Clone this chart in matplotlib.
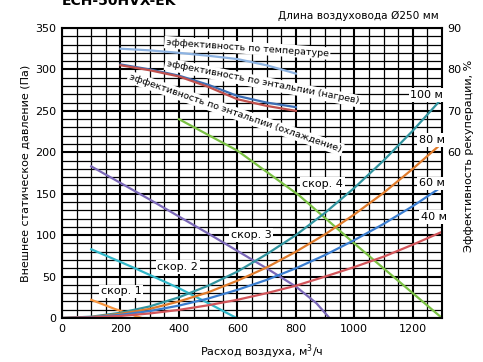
import matplotlib
matplotlib.use("Agg")
import matplotlib.pyplot as plt
from matplotlib.ticker import MultipleLocator

plt.rcParams['font.family'] = ['Liberation Sans Narrow', 'DejaVu Sans']

# fan curves (Pa vs m3/h)
spd1_x = [100, 180, 273]
spd1_y = [22, 11, 0]
spd2_x = [100, 250, 400, 500, 597]
spd2_y = [83, 60, 36, 18, 0]
spd3_x = [100, 300, 500, 700, 800, 870, 915]
spd3_y = [183, 143, 102, 60, 38, 18, 0]
spd4_x = [400, 600, 811, 1000, 1150, 1300]
spd4_y = [240, 202, 148, 90, 45, 0]

# duct length curves
duct_x = [0, 100, 200, 300, 400, 500, 600, 700, 800, 900, 1000, 1100, 1200, 1300]
duct100 = [0, 1.6, 6.3, 14, 25, 39, 56, 77, 100, 127, 157, 190, 226, 265]
duct80 = [0, 1.2, 5, 11, 20, 31, 45, 61, 80, 101, 125, 151, 180, 211]
duct60 = [0, 0.9, 3.8, 8.4, 15, 23.5, 34, 46, 60, 76, 94, 113.5, 135, 158.5]
duct40 = [0, 0.6, 2.5, 5.5, 9.8, 15.4, 22, 30, 39, 50, 61.5, 74, 88.5, 104]

# efficiency curves (%)
eff_x = [200, 300, 400, 500, 600, 700, 800]
eff_temp = [85, 84.6, 84, 83.3, 82.5, 81, 79]
eff_heat = [81.2, 80, 78.5, 76.3, 73.6, 72, 70.9]
eff_cool = [81, 79.8, 78.3, 75.8, 72.8, 71.2, 70]

fig = plt.figure(figsize=(4.83, 3.62), dpi=100)
ax = fig.add_axes([0.1284, 0.1215, 0.7867, 0.8012])
ax.set_xlim(0, 1300)
ax.set_ylim(0, 350)
ax.xaxis.set_major_locator(MultipleLocator(200))
ax.xaxis.set_minor_locator(MultipleLocator(50))
ax.yaxis.set_major_locator(MultipleLocator(50))
ax.yaxis.set_minor_locator(MultipleLocator(10))
ax.grid(which='major', color='black', lw=1.5)
ax.grid(which='minor', color='black', lw=0.9)
ax.set_axisbelow(True)
ax.tick_params(which='both', length=0, labelsize=8, pad=4)
for s in ax.spines.values():
    s.set_color('black')
    s.set_linewidth(1.5)

lw = 1.6
ax.plot(spd1_x, spd1_y, color='#f7943c', lw=lw)
ax.plot(spd2_x, spd2_y, color='#31b7c9', lw=lw)
ax.plot(spd3_x, spd3_y, color='#7b68b8', lw=lw)
ax.plot(spd4_x, spd4_y, color='#7ac143', lw=lw)
ax.plot(duct_x, duct100, color='#31949f', lw=lw)
ax.plot(duct_x, duct80, color='#e07b2b', lw=lw)
ax.plot(duct_x, duct60, color='#3a7dd0', lw=lw)
ax.plot(duct_x, duct40, color='#d2555a', lw=lw)

ax2 = ax.twinx()
ax2.set_ylim(20, 90)
ax2.set_yticks([60, 70, 80, 90])
ax2.tick_params(length=0, labelsize=8, pad=4)
for s in ax2.spines.values():
    s.set_visible(False)
ax2.plot(eff_x, eff_temp, color='#8db3e2', lw=lw)
ax2.plot(eff_x, eff_heat, color='#3c6eb4', lw=lw)
ax2.plot(eff_x, eff_cool, color='#c0504d', lw=lw)

box = dict(facecolor='white', edgecolor='none', pad=1.2)
fs_eff = 6.8
ax.text(634, 326, 'эффективность по температуре', rotation=-4, fontsize=fs_eff,
        ha='center', va='center', bbox=box)
ax.text(686, 284, 'эффективность по энтальпии (нагрев)', rotation=-11, fontsize=fs_eff,
        ha='center', va='center', bbox=box)
ax.text(593, 247, 'эффективность по энтальпии (охлаждение)', rotation=-19, fontsize=fs_eff,
        ha='center', va='center', bbox=box)
ax.text(203, 32, 'скор. 1', fontsize=8, ha='center', va='center', bbox=box)
ax.text(396, 61.5, 'скор. 2', fontsize=8, ha='center', va='center', bbox=box)
ax.text(647, 100, 'скор. 3', fontsize=8, ha='center', va='center', bbox=box)
ax.text(891, 162, 'скор. 4', fontsize=8, ha='center', va='center', bbox=box)
ax.text(1248, 269, '100 м', fontsize=8, ha='center', va='center', bbox=box)
ax.text(1266, 215, '80 м', fontsize=8, ha='center', va='center', bbox=box)
ax.text(1266, 162.5, '60 м', fontsize=8, ha='center', va='center', bbox=box)
ax.text(1272, 122, '40 м', fontsize=8, ha='center', va='center', bbox=box)

fig.text(262 / 483, 1 - 352 / 362, 'Расход воздуха, м$^3$/ч', fontsize=8,
         ha='center', va='center')
fig.text(26 / 483, 0.52, 'Внешнее статическое давление (Па)', rotation=90, fontsize=8,
         ha='center', va='center')
fig.text(0.971, 0.57, 'Эффективность рекуперации, %', rotation=90, fontsize=8,
         ha='center', va='center')
fig.text(0.908, 0.955, 'Длина воздуховода Ø250 мм', fontsize=7.6, ha='right', va='center')
fig.text(0.128, 0.985, 'ECH-50HVX-EK', fontsize=10, fontweight='bold',
         ha='left', va='baseline')

fig.savefig('out.png', dpi=100)
